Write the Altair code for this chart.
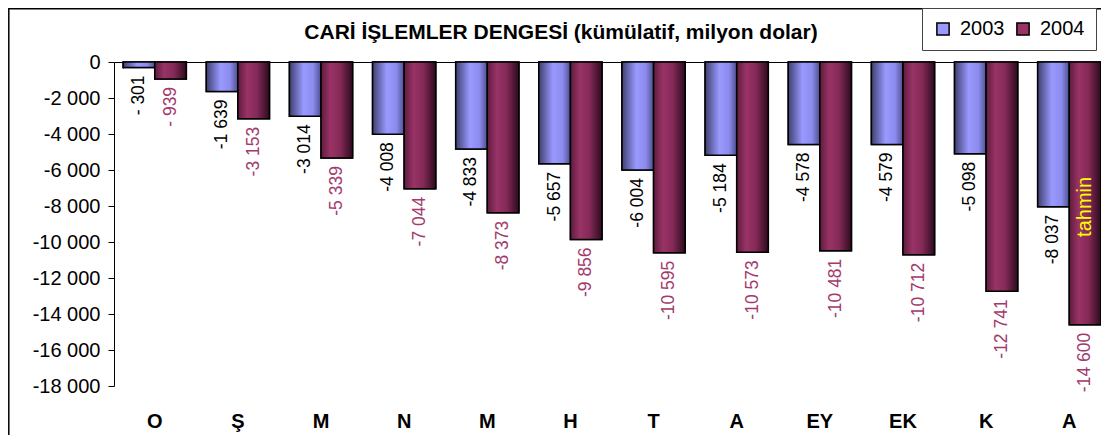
import altair as alt
import pandas as pd

# ---- data ----
aylar = ["Ocak", "Şubat", "Mart", "Nisan", "Mayıs", "Haziran",
         "Temmuz", "Ağustos", "Eylül", "Ekim", "Kasım", "Aralık"]
kisaltmalar = ["O", "Ş", "M", "N", "M", "H", "T", "A", "EY", "EK", "K", "A"]
yillar = ["2003", "2004"]
deger_2003 = [-301, -1639, -3014, -4008, -4833, -5657, -6004, -5184, -4578, -4579, -5098, -8037]
deger_2004 = [-939, -3153, -5339, -7044, -8373, -9856, -10595, -10573, -10481, -10712, -12741, -14600]
y_ticks = list(range(0, -18001, -2000))
baslik = "CARİ İŞLEMLER DENGESİ (kümülatif, milyon dolar)"
not_metni = "tahmin"
not_ay = "Aralık"
not_yil = "2004"
not_deger = -8050

FONT = "Liberation Sans"


def etiket(v):
    s = f"{abs(v):,}".replace(",", " ")
    return ("- " if abs(v) < 1000 else "-") + s


rows = []
for yil, seri in zip(yillar, [deger_2003, deger_2004]):
    for ay, v in zip(aylar, seri):
        rows.append({"ay": ay, "yil": yil, "deger": v, "etiket": etiket(v)})
df = pd.DataFrame(rows)

W, H = 987, 324

grad_blue = alt.LinearGradient(
    gradient="linear", x1=0, x2=1, y1=0, y2=0,
    stops=[alt.GradientStop(offset=0, color="#3f3f70"),
           alt.GradientStop(offset=0.45, color="#9999ff"),
           alt.GradientStop(offset=0.75, color="#8c8cee"),
           alt.GradientStop(offset=1, color="#4f4f90")])
grad_red = alt.LinearGradient(
    gradient="linear", x1=0, x2=1, y1=0, y2=0,
    stops=[alt.GradientStop(offset=0, color="#5e1c3d"),
           alt.GradientStop(offset=0.3, color="#993366"),
           alt.GradientStop(offset=0.6, color="#852a58"),
           alt.GradientStop(offset=1, color="#2e0b1e")])

label_expr = "%s[indexof(%s, datum.value)]" % (
    "[" + ",".join("'%s'" % k for k in kisaltmalar) + "]",
    "[" + ",".join("'%s'" % a for a in aylar) + "]")

xscale = alt.Scale(domain=aylar, range=[0, 996], paddingInner=0.24, paddingOuter=0.11)
yscale = alt.Scale(domain=[-18000, 0], nice=False, zero=True)

y_axis = alt.Axis(values=y_ticks, grid=False, title=None, domainColor="black",
                  domainWidth=1, tickColor="black", tickSize=6, labelFontSize=20,
                  labelFont=FONT, labelColor="black", labelPadding=8,
                  labelExpr="(datum.value < 0 ? '-' : '') + replace(format(abs(datum.value), ','), ',', ' ')")

Y = alt.Y("deger:Q", scale=yscale, axis=y_axis)
XOFF = alt.XOffset("yil:N", scale=alt.Scale(domain=yillar, paddingInner=0, paddingOuter=0))

base = alt.Chart(df)

# solid bars (legend source)
solid = base.mark_bar(stroke="black", strokeWidth=1.5).encode(
    x=alt.X("ay:N", scale=xscale, axis=alt.Axis(orient="bottom", offset=-H, labels=False,
                                                  title=None, domainColor="black", domainWidth=1,
                                                  tickColor="black", tickSize=6, bandPosition=0)),
    xOffset=XOFF,
    y=Y,
    color=alt.Color("yil:N", scale=alt.Scale(domain=yillar, range=["#9999ff", "#993366"]),
                    legend=alt.Legend(orient="none", legendX=808, legendY=-54, direction="horizontal",
                                      title=None, strokeColor="#444444", fillColor="white",
                                      padding=11, symbolType="square", symbolSize=150,
                                      symbolStrokeColor="black", symbolStrokeWidth=1.5,
                                      symbolOpacity=1, labelFontSize=20, labelFont=FONT,
                                      labelColor="black", labelOffset=7, columnPadding=8)),
)

bars03 = base.transform_filter(alt.datum.yil == "2003").mark_bar(
    fill=grad_blue, stroke="black", strokeWidth=1.5).encode(
    x=alt.X("ay:N", scale=xscale, axis=None), xOffset=XOFF, y=Y)
bars04 = base.transform_filter(alt.datum.yil == "2004").mark_bar(
    fill=grad_red, stroke="black", strokeWidth=1.5).encode(
    x=alt.X("ay:N", scale=xscale, axis=None), xOffset=XOFF, y=Y)

labels = base.mark_text(angle=270, align="right", baseline="middle", dx=-8,
                        fontSize=17.5, font=FONT).encode(
    x=alt.X("ay:N", scale=xscale,
            axis=alt.Axis(orient="bottom", labelExpr=label_expr, domain=False, ticks=False,
                          tickSize=0, labelPadding=25, labelFontSize=20, labelFont=FONT,
                          labelFontWeight="bold", labelColor="black", labelAngle=0, title=None)),
    xOffset=XOFF,
    y=Y,
    text="etiket:N",
    color=alt.condition(alt.datum.yil == "2003", alt.value("black"), alt.value("#a33a6c")),
)

note_df = pd.DataFrame([{"ay": not_ay, "yil": not_yil, "deger": not_deger, "metin": not_metni}])
note = alt.Chart(note_df).mark_text(angle=270, align="center", baseline="middle",
                                    fontSize=20, font=FONT, color="#ffff00").encode(
    x=alt.X("ay:N", scale=xscale, axis=None), xOffset=XOFF, y=Y, text="metin:N")

title_df = pd.DataFrame([{"t": baslik}])
title = alt.Chart(title_df).mark_text(fontSize=21, font=FONT, fontWeight="bold",
                                      baseline="middle", align="center", color="black").encode(
    x=alt.value(447), y=alt.value(-29), text="t:N")

frame = alt.Chart(pd.DataFrame([{"k": 1}])).mark_rect(
    fill="transparent", stroke="black", strokeWidth=1.5).encode(
    x=alt.value(-105.2), x2=alt.value(1100), y=alt.value(-53.2), y2=alt.value(500))

chart = alt.layer(frame, solid, bars03, bars04, labels, note, title).resolve_axis(
    x="independent").properties(
    width=W, height=H,
    padding={"left": 106, "top": 54, "right": 0, "bottom": 49},
    autosize=alt.AutoSizeParams(type="none"),
    background="white",
).configure_view(stroke=None)

chart.save("out.html", embed_options={"renderer": "svg", "actions": False})
